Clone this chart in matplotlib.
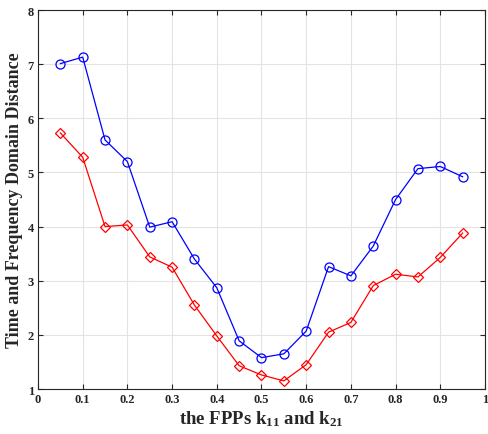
import numpy as np
import matplotlib
matplotlib.use('Agg')
import matplotlib.pyplot as plt

# x positions (FPPs)
fpp = [0.05, 0.10, 0.15, 0.20, 0.25, 0.30, 0.35, 0.40, 0.45, 0.50,
       0.55, 0.60, 0.65, 0.70, 0.75, 0.80, 0.85, 0.90, 0.95]

# blue circles
dist_blue = [7.01, 7.13, 5.60, 5.20, 3.99, 4.09, 3.40, 2.87, 1.89, 1.58,
             1.65, 2.07, 3.26, 3.09, 3.64, 4.50, 5.07, 5.11, 4.92]

# red diamonds
dist_red = [5.73, 5.28, 4.00, 4.03, 3.44, 3.25, 2.55, 1.98, 1.43, 1.26,
            1.15, 1.45, 2.05, 2.23, 2.91, 3.12, 3.07, 3.43, 3.88]

xticks = np.arange(0, 1.01, 0.1)
xtick_labels = ['0', '0.1', '0.2', '0.3', '0.4', '0.5', '0.6', '0.7', '0.8', '0.9', '1']
yticks = [1, 2, 3, 4, 5, 6, 7, 8]

plt.rcParams['font.family'] = ['Liberation Serif', 'DejaVu Serif']
plt.rcParams['font.weight'] = 'bold'
plt.rcParams['mathtext.fontset'] = 'custom'
plt.rcParams['mathtext.rm'] = 'Liberation Serif:bold'
plt.rcParams['mathtext.it'] = 'Liberation Serif:bold'
plt.rcParams['mathtext.bf'] = 'Liberation Serif:bold'

fig = plt.figure(figsize=(4.89, 4.35), dpi=100)
ax = fig.add_axes([0.0777, 0.1034, 0.9141, 0.8713])

ax.plot(fpp, dist_blue, color='#0000ff', marker='o', markersize=6.5,
        markerfacecolor='none', markeredgewidth=0.9, linewidth=0.9)
ax.plot(fpp, dist_red, color='#ff0000', marker='D', markersize=5.5,
        markerfacecolor='none', markeredgewidth=0.9, linewidth=0.9)

ax.set_xlim(0, 1)
ax.set_ylim(1, 8)
ax.set_xticks(xticks)
ax.set_xticklabels(xtick_labels)
ax.set_yticks(yticks)

ax.grid(True, color='#e3e3e3', linewidth=0.8)
ax.set_axisbelow(True)
ax.tick_params(direction='in', top=True, right=True, length=3.5, width=0.8,
               labelsize=9, colors='#262626', pad=3)
for s in ax.spines.values():
    s.set_color('#262626')
    s.set_linewidth(0.8)

ax.set_xlabel(r'the FPPs k$_{11}$ and k$_{21}$', fontsize=13.5, fontweight='bold',
              color='#262626', labelpad=2)
ax.set_ylabel('Time and Frequency Domain Distance', fontsize=13, fontweight='bold',
              color='#262626', labelpad=3)

fig.savefig('out.png', dpi=100)
